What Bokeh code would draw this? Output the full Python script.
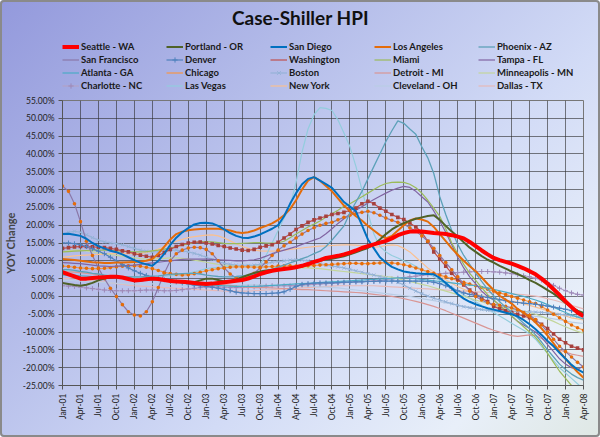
import numpy as np
from bokeh.plotting import figure
from bokeh.layouts import column
from bokeh.models import (Legend, LegendItem, Label, FixedTicker,
                          PrintfTickFormatter, Range1d)
from bokeh.embed import file_html
from bokeh.resources import INLINE

# ---------------- data (YOY change, %, monthly Jan-01 .. Apr-08) ----------------
tick_labels = ["Jan-01", "Apr-01", "Jul-01", "Oct-01", "Jan-02", "Apr-02", "Jul-02", "Oct-02",
               "Jan-03", "Apr-03", "Jul-03", "Oct-03", "Jan-04", "Apr-04", "Jul-04", "Oct-04",
               "Jan-05", "Apr-05", "Jul-05", "Oct-05", "Jan-06", "Apr-06", "Jul-06", "Oct-06",
               "Jan-07", "Apr-07", "Jul-07", "Oct-07", "Jan-08", "Apr-08"]

seattle = [6.8, 6.2, 5.6, 5.0, 5.0, 5.2, 5.3, 5.4, 5.5, 5.5, 5.3, 4.9,
           4.5, 4.6, 4.8, 5.0, 4.9, 4.6, 4.3, 4.2, 4.1, 4.0, 3.8, 3.6,
           3.5, 3.6, 3.8, 4.0, 4.2, 4.4, 4.6, 5.0, 5.6, 6.3, 6.8, 7.2,
           7.5, 7.7, 7.9, 8.2, 8.6, 9.1, 9.7, 10.2, 10.8, 11.1, 11.4, 11.8,
           12.3, 12.9, 13.6, 14.1, 14.6, 15.1, 15.6, 16.3, 17.2, 17.8, 18.2, 18.3,
           18.2, 18.0, 17.8, 17.7, 17.5, 17.2, 16.8, 16.3, 15.3, 14.1, 12.9, 11.8,
           10.8, 10.2, 9.7, 9.2, 8.6, 7.9, 7.1, 6.2, 5.0, 3.6, 2.0, 0.4,
           -1.4, -3.0, -4.5, -5.5]
portland = [3.8, 3.5, 3.2, 3.0, 3.3, 3.8, 4.5, 5.0, 5.3, 5.5, 5.3, 5.0,
            4.6, 4.5, 4.7, 5.0, 5.0, 4.8, 4.5, 4.3, 4.0, 3.8, 4.0, 4.5,
            5.0, 5.0, 4.6, 4.2, 4.3, 4.8, 5.4, 6.0, 6.6, 7.0, 7.3, 7.5,
            7.6, 7.8, 8.0, 8.3, 8.7, 9.2, 9.6, 10.0, 10.4, 10.6, 10.9, 11.3,
            11.8, 12.4, 13.0, 13.6, 14.6, 16.0, 17.5, 18.8, 19.8, 20.6, 21.2, 21.8,
            22.2, 22.6, 22.8, 21.5, 19.8, 18.2, 16.8, 15.2, 13.7, 12.5, 11.3, 10.3,
            9.5, 8.6, 7.8, 7.0, 6.3, 5.5, 4.6, 3.8, 2.8, 1.8, 0.8, -0.5,
            -1.8, -3.0, -4.0, -4.6]
san_diego = [17.5, 17.6, 17.3, 17.0, 16.2, 15.0, 14.1, 13.5, 12.8, 12.4, 11.8, 11.0,
             10.2, 9.5, 9.0, 8.6, 10.0, 12.0, 14.5, 16.5, 18.0, 19.2, 20.2, 20.6,
             20.7, 20.5, 19.8, 18.8, 17.8, 17.0, 16.5, 16.4, 16.8, 17.4, 18.2, 19.0,
             20.0, 22.5, 26.0, 29.0, 31.5, 33.0, 33.5, 32.5, 31.5, 30.5, 28.5, 26.5,
             25.2, 23.9, 20.0, 16.0, 13.5, 11.0, 9.5, 8.3, 7.6, 7.0, 6.7, 6.5,
             6.4, 6.3, 6.2, 5.2, 3.8, 2.3, 0.6, -0.6, -1.5, -2.2, -2.8, -3.3,
             -3.7, -4.1, -4.6, -5.0, -5.6, -6.6, -7.8, -9.2, -10.8, -12.5, -14.0, -15.8,
             -17.5, -19.2, -20.5, -21.4]
los_angeles = [10.5, 10.4, 10.2, 10.0, 9.8, 9.6, 9.5, 9.4, 9.4, 9.5, 9.5, 9.6,
               9.7, 9.8, 10.0, 10.5, 12.0, 14.0, 16.0, 17.5, 18.2, 18.6, 18.8, 18.9,
               19.0, 19.0, 19.0, 18.8, 18.5, 18.0, 17.8, 18.0, 18.5, 19.2, 19.8, 20.5,
               21.5, 22.8, 24.5, 27.0, 30.0, 32.5, 33.5, 32.5, 31.0, 29.5, 27.5, 25.5,
               24.0, 22.5, 21.3, 19.8, 18.5, 17.2, 16.3, 17.0, 18.5, 20.0, 21.3, 21.9,
               21.6, 21.0, 19.5, 17.5, 15.5, 13.5, 11.7, 10.0, 8.5, 7.1, 5.3, 3.5,
               1.8, 0.2, -0.9, -2.0, -3.5, -4.6, -5.8, -7.3, -9.0, -11.0, -13.2, -15.5,
               -17.5, -19.4, -21.2, -22.8]
phoenix = [7.5, 7.5, 7.3, 7.0, 6.8, 6.5, 6.3, 6.0, 5.8, 5.7, 5.5, 5.5,
           5.5, 5.5, 5.6, 5.7, 5.8, 6.0, 6.2, 6.3, 6.4, 6.5, 6.5, 6.3,
           6.0, 5.8, 5.6, 5.5, 5.5, 5.6, 5.8, 6.0, 6.3, 6.7, 7.1, 7.6,
           8.2, 8.8, 9.4, 10.0, 10.6, 11.2, 12.0, 12.7, 14.0, 15.8, 17.8, 19.8,
           23.5, 26.5, 29.5, 33.0, 36.5, 40.0, 43.5, 46.5, 49.3, 48.6, 47.0, 45.5,
           42.0, 38.9, 34.5, 28.0, 23.0, 18.5, 14.6, 11.5, 9.0, 6.5, 4.2, 2.0,
           0.2, -1.5, -3.0, -4.5, -6.0, -7.5, -9.0, -10.8, -12.8, -15.0, -17.0, -19.0,
           -20.5, -21.8, -22.8, -23.5]
san_francisco = [31.0, 29.5, 26.0, 21.0, 15.5, 11.5, 8.0, 5.0, 2.3, 0.0, -2.3, -4.3,
                 -5.2, -5.5, -4.3, -1.5, 2.5, 6.5, 10.0, 12.0, 13.0, 13.6, 13.8, 13.7,
                 13.2, 12.0, 10.0, 8.0, 6.3, 5.2, 5.0, 5.5, 6.5, 8.0, 9.7, 11.5,
                 13.0, 14.2, 15.2, 16.4, 17.5, 18.5, 19.3, 20.0, 20.5, 20.8, 21.5, 22.2,
                 22.8, 23.3, 23.6, 23.9, 23.5, 22.8, 22.0, 21.4, 20.8, 20.3, 19.3, 18.3,
                 17.0, 15.5, 13.5, 11.5, 9.5, 7.5, 5.5, 3.5, 1.5, 0.0, -1.0, -1.8,
                 -2.2, -2.5, -2.8, -3.2, -3.8, -4.5, -5.3, -6.5, -8.0, -10.0, -12.0, -14.0,
                 -15.5, -17.0, -18.5, -19.8]
denver = [15.0, 15.0, 14.8, 14.5, 14.0, 13.4, 12.7, 12.0, 11.0, 10.0, 9.0, 8.0,
          7.2, 6.5, 5.9, 5.4, 5.0, 4.7, 4.4, 4.1, 3.8, 3.5, 3.2, 3.0,
          2.8, 2.6, 2.3, 2.0, 1.6, 1.2, 1.0, 0.9, 0.8, 0.8, 0.8, 0.9,
          1.0, 1.3, 2.0, 2.8, 3.4, 3.6, 3.7, 3.8, 3.8, 3.8, 3.9, 4.0,
          4.0, 4.1, 4.1, 4.2, 4.2, 4.3, 4.3, 4.3, 4.3, 4.3, 4.3, 4.3,
          4.3, 4.2, 4.0, 3.6, 3.0, 2.3, 1.6, 1.0, 0.6, 0.3, 0.0, -0.3,
          -0.6, -0.9, -1.2, -1.5, -1.7, -1.9, -2.0, -2.2, -2.4, -2.7, -3.0, -3.3,
          -3.6, -4.0, -4.4, -4.8]
washington = [13.5, 13.7, 13.9, 14.0, 14.0, 13.9, 13.8, 13.7, 13.5, 13.2, 12.8, 12.5,
              12.0, 11.6, 11.3, 11.0, 11.5, 12.3, 13.2, 14.0, 14.6, 15.0, 15.2, 15.3,
              15.0, 14.7, 14.3, 14.0, 13.6, 13.3, 13.0, 12.9, 13.2, 13.8, 14.2, 14.5,
              15.2, 16.4, 17.5, 18.8, 19.8, 20.8, 21.5, 22.0, 22.5, 23.0, 23.3, 23.6,
              24.2, 24.8, 26.0, 26.7, 26.0, 24.8, 23.9, 23.0, 22.2, 21.6, 20.6, 19.5,
              18.0, 15.5, 12.5, 10.5, 8.5, 6.5, 4.8, 3.2, 1.8, 0.6, -0.5, -1.4,
              -2.8, -3.5, -4.0, -4.5, -5.0, -5.5, -6.0, -6.8, -7.8, -9.0, -10.5, -12.0,
              -13.0, -14.0, -14.5, -15.0]
miami = [12.5, 12.6, 12.7, 12.8, 12.9, 13.0, 13.0, 13.0, 12.9, 12.8, 12.7, 12.6,
         12.5, 12.5, 12.6, 12.8, 13.0, 13.3, 13.6, 14.0, 14.4, 14.8, 15.1, 15.3,
         15.4, 15.3, 15.1, 14.9, 14.8, 14.8, 14.9, 15.0, 15.1, 15.1, 15.0, 15.0,
         15.0, 15.5, 16.5, 17.5, 18.5, 19.5, 20.3, 21.2, 22.2, 23.2, 24.2, 25.3,
         26.0, 27.0, 28.0, 29.0, 30.0, 31.0, 31.7, 32.0, 32.1, 32.0, 31.5, 30.5,
         29.0, 27.0, 24.8, 22.5, 19.0, 15.0, 12.0, 9.0, 6.5, 4.5, 2.5, 0.5,
         -1.0, -2.5, -4.0, -5.5, -7.0, -8.5, -10.0, -11.5, -13.5, -16.0, -18.5, -21.0,
         -23.0, -25.0, -27.0, -28.5]
tampa = [9.5, 9.4, 9.3, 9.2, 9.0, 8.8, 8.6, 8.5, 8.4, 8.5, 8.6, 8.7,
         8.8, 9.0, 9.2, 9.4, 9.6, 9.8, 10.0, 10.2, 10.4, 10.5, 10.5, 10.5,
         10.5, 10.4, 10.3, 10.2, 10.1, 10.0, 10.0, 10.1, 10.3, 10.7, 11.3, 12.0,
         12.5, 13.0, 13.5, 14.0, 14.6, 15.2, 15.8, 16.4, 17.6, 19.0, 20.5, 21.8,
         23.0, 24.2, 25.2, 26.2, 27.2, 28.1, 29.0, 29.8, 30.4, 30.9, 30.6, 29.5,
         28.0, 26.5, 24.0, 21.1, 18.0, 14.5, 11.0, 8.0, 5.5, 3.5, 1.5, 0.0,
         -1.0, -2.5, -4.0, -5.5, -7.0, -8.0, -9.0, -10.0, -11.5, -13.5, -15.5, -17.5,
         -19.0, -20.0, -20.5, -19.5]
atlanta = [6.0, 6.0, 5.9, 5.8, 5.7, 5.6, 5.5, 5.4, 5.3, 5.2, 5.1, 5.0,
           4.9, 4.8, 4.7, 4.6, 4.5, 4.4, 4.3, 4.2, 4.0, 3.8, 3.6, 3.4,
           3.3, 3.2, 3.1, 3.0, 2.9, 2.8, 2.8, 2.8, 2.8, 2.9, 3.0, 3.1,
           3.2, 3.3, 3.4, 3.5, 3.6, 3.7, 3.8, 3.9, 4.0, 4.1, 4.2, 4.3,
           4.4, 4.5, 4.6, 4.7, 4.8, 4.9, 5.0, 5.1, 5.2, 5.2, 5.1, 5.0,
           4.8, 4.6, 4.4, 4.2, 4.0, 3.8, 3.6, 3.4, 3.2, 3.0, 2.7, 2.4,
           2.0, 1.6, 1.2, 0.8, 0.4, 0.0, -0.5, -1.0, -1.6, -2.3, -3.0, -3.8,
           -4.5, -5.2, -5.8, -6.3]
chicago = [8.5, 8.4, 8.2, 8.0, 7.9, 7.8, 7.8, 7.9, 8.1, 8.3, 8.5, 8.6,
           8.6, 8.5, 8.2, 7.8, 7.3, 6.8, 6.4, 6.2, 6.0, 6.1, 6.4, 6.8,
           7.2, 7.5, 7.8, 8.0, 8.2, 8.3, 8.3, 8.3, 8.2, 8.2, 8.3, 8.4,
           8.5, 8.6, 8.6, 8.5, 8.5, 8.6, 8.7, 8.8, 8.9, 9.0, 9.1, 9.2,
           9.3, 9.3, 9.2, 9.2, 9.3, 9.4, 9.5, 9.4, 9.2, 8.9, 8.5, 8.0,
           7.5, 7.0, 6.5, 6.0, 5.5, 5.0, 4.5, 4.0, 3.5, 3.0, 2.5, 2.0,
           1.5, 1.0, 0.5, 0.0, -0.5, -1.0, -1.5, -2.0, -2.8, -3.8, -5.0, -6.0,
           -7.0, -8.0, -8.8, -9.5]
boston = [17.5, 18.0, 18.3, 18.0, 17.3, 16.5, 15.8, 15.3, 15.0, 14.8, 14.5, 14.0,
          13.5, 13.0, 12.7, 12.5, 12.6, 12.8, 13.0, 13.0, 12.8, 12.5, 12.1, 11.6,
          11.0, 10.4, 9.8, 9.3, 9.0, 8.8, 8.7, 8.7, 8.8, 9.0, 9.3, 9.6,
          9.8, 10.0, 10.2, 10.3, 10.2, 10.0, 9.6, 9.2, 8.8, 8.5, 8.3, 8.0,
          7.6, 7.2, 6.8, 6.4, 6.0, 5.6, 5.2, 4.7, 4.0, 3.2, 2.3, 1.5,
          0.8, 0.1, -0.5, -1.0, -1.5, -2.0, -2.5, -2.9, -3.2, -3.5, -3.7, -3.9,
          -4.0, -4.1, -4.2, -4.2, -4.2, -4.3, -4.3, -4.4, -4.5, -4.6, -4.8, -5.0,
          -5.2, -5.4, -5.6, -5.8]
detroit = [7.0, 6.9, 6.8, 6.7, 6.5, 6.3, 6.1, 5.9, 5.7, 5.5, 5.3, 5.1,
           5.0, 4.9, 4.8, 4.7, 4.6, 4.5, 4.4, 4.3, 4.2, 4.1, 4.0, 3.9,
           3.8, 3.7, 3.5, 3.3, 3.1, 2.9, 2.7, 2.6, 2.5, 2.5, 2.5, 2.4,
           2.3, 2.2, 2.1, 2.0, 1.9, 1.9, 1.8, 1.7, 1.6, 1.5, 1.4, 1.3,
           1.2, 1.1, 1.0, 0.8, 0.6, 0.4, 0.2, 0.0, -0.3, -0.6, -1.0, -1.4,
           -1.8, -2.3, -2.8, -3.4, -4.0, -4.7, -5.4, -6.1, -6.8, -7.5, -8.2, -8.9,
           -9.5, -10.0, -10.5, -11.0, -11.2, -11.0, -10.8, -11.0, -11.8, -12.8, -14.0, -15.0,
           -15.6, -16.2, -16.5, -16.8]
minneapolis = [12.5, 12.8, 13.0, 13.0, 12.8, 12.5, 12.2, 12.0, 11.8, 11.5, 11.3, 11.0,
               10.8, 10.6, 10.5, 10.5, 10.6, 10.7, 10.8, 10.8, 10.7, 10.5, 10.2, 9.9,
               9.6, 9.3, 9.0, 8.8, 8.7, 8.6, 8.5, 8.5, 8.5, 8.5, 8.4, 8.3,
               8.2, 8.1, 8.0, 8.0, 8.0, 8.0, 7.9, 7.8, 7.6, 7.4, 7.2, 7.0,
               6.8, 6.6, 6.4, 6.2, 6.0, 5.8, 5.6, 5.4, 5.0, 4.6, 4.2, 3.8,
               3.4, 3.0, 2.5, 2.0, 1.5, 1.0, 0.5, 0.0, -0.5, -1.0, -1.5, -2.0,
               -2.5, -3.0, -3.3, -3.6, -3.9, -4.2, -4.5, -5.0, -5.6, -6.3, -7.0, -7.8,
               -8.5, -9.2, -9.8, -10.3]
charlotte = [3.0, 2.9, 2.8, 2.6, 2.4, 2.2, 2.0, 1.8, 1.7, 1.6, 1.6, 1.6,
             1.6, 1.7, 1.8, 1.8, 1.7, 1.6, 1.6, 1.7, 1.9, 2.1, 2.3, 2.5,
             2.6, 2.7, 2.7, 2.6, 2.5, 2.5, 2.5, 2.6, 2.7, 2.8, 2.9, 3.0,
             3.0, 3.0, 3.0, 3.1, 3.2, 3.3, 3.4, 3.5, 3.6, 3.7, 3.8, 3.9,
             4.0, 4.1, 4.2, 4.3, 4.4, 4.5, 4.7, 4.9, 5.1, 5.3, 5.5, 5.7,
             5.9, 6.1, 6.3, 6.4, 6.5, 6.6, 6.7, 6.8, 6.9, 7.0, 7.0, 7.0,
             6.9, 6.8, 6.6, 6.4, 6.1, 5.8, 5.5, 5.1, 4.6, 3.9, 3.1, 2.3,
             1.6, 1.0, 0.6, 0.4]
las_vegas = [7.5, 7.3, 7.0, 6.8, 6.6, 6.4, 6.2, 6.0, 5.8, 5.6, 5.5, 5.5,
             5.4, 5.3, 5.3, 5.4, 5.5, 5.6, 5.8, 6.0, 6.2, 6.5, 6.9, 7.3,
             7.8, 8.0, 8.2, 8.3, 8.4, 8.5, 8.6, 8.7, 8.8, 9.0, 11.5, 15.0,
             18.5, 22.0, 25.3, 32.0, 40.5, 47.0, 51.0, 53.0, 52.8, 52.2, 49.5, 45.9,
             42.0, 36.5, 30.0, 23.5, 17.5, 14.0, 12.5, 11.5, 10.8, 10.0, 9.4, 8.5,
             7.5, 6.5, 5.5, 4.5, 3.5, 2.5, 1.5, 0.5, -0.5, -1.5, -2.5, -3.5,
             -4.5, -5.5, -6.5, -7.5, -8.5, -9.5, -10.5, -12.0, -14.0, -16.0, -18.0, -20.0,
             -21.5, -23.0, -24.5, -26.0]
new_york = [11.0, 11.2, 11.4, 11.5, 11.6, 11.7, 11.8, 11.9, 12.0, 12.0, 12.0, 12.0,
            12.0, 12.1, 12.3, 12.7, 13.3, 14.0, 14.8, 15.5, 16.0, 16.5, 16.8, 17.0,
            17.2, 17.3, 17.0, 16.4, 15.6, 14.8, 14.0, 13.5, 13.0, 12.8, 12.7, 12.7,
            12.8, 13.0, 13.2, 13.4, 13.6, 13.8, 14.0, 14.1, 14.2, 14.3, 14.4, 14.5,
            14.5, 14.4, 14.2, 14.0, 13.8, 14.0, 14.3, 14.5, 14.3, 13.5, 12.5, 11.0,
            9.5, 8.0, 6.8, 5.7, 4.7, 3.7, 2.8, 2.0, 1.3, 0.7, 0.2, -0.2,
            -0.5, -0.8, -1.0, -1.3, -1.6, -2.0, -2.5, -3.0, -3.5, -4.0, -4.5, -5.0,
            -5.5, -6.0, -6.3, -6.6]
cleveland = [4.5, 4.5, 4.4, 4.3, 4.2, 4.1, 4.0, 3.9, 3.8, 3.7, 3.6, 3.5,
             3.5, 3.5, 3.5, 3.5, 3.5, 3.5, 3.4, 3.3, 3.2, 3.1, 3.0, 3.0,
             3.0, 3.0, 3.0, 3.0, 3.0, 3.1, 3.2, 3.3, 3.3, 3.3, 3.2, 3.1,
             3.0, 2.9, 2.8, 2.8, 2.8, 2.8, 2.8, 2.7, 2.6, 2.5, 2.4, 2.2,
             2.0, 1.8, 1.6, 1.4, 1.2, 1.0, 0.8, 0.6, 0.4, 0.2, 0.0, -0.3,
             -0.6, -0.9, -1.2, -1.5, -1.8, -2.1, -2.4, -2.7, -3.0, -3.3, -3.6, -3.9,
             -4.2, -4.4, -4.6, -4.8, -5.0, -5.2, -5.4, -5.6, -5.8, -6.0, -6.3, -6.6,
             -6.9, -7.2, -7.4, -7.6]
dallas = [5.0, 5.0, 4.9, 4.8, 4.6, 4.4, 4.2, 4.0, 3.8, 3.6, 3.4, 3.2,
          3.0, 2.9, 2.8, 2.7, 2.6, 2.5, 2.4, 2.3, 2.2, 2.1, 2.0, 1.9,
          1.8, 1.7, 1.6, 1.5, 1.5, 1.5, 1.5, 1.5, 1.6, 1.7, 1.8, 1.9,
          2.0, 2.1, 2.2, 2.3, 2.4, 2.5, 2.6, 2.7, 2.8, 2.9, 3.0, 3.0,
          3.0, 3.0, 3.0, 3.0, 3.0, 2.9, 2.8, 2.7, 2.6, 2.5, 2.4, 2.3,
          2.2, 2.1, 2.0, 1.9, 1.8, 1.7, 1.6, 1.5, 1.4, 1.3, 1.2, 1.1,
          1.0, 0.9, 0.8, 0.7, 0.6, 0.5, 0.3, 0.1, -0.2, -0.6, -1.0, -1.5,
          -2.0, -2.5, -3.0, -3.5]

# name, values, line colour, line width, marker, marker colour
series = [
    ("Seattle - WA", seattle, "#FF0000", 4.0, None, None),
    ("Portland - OR", portland, "#4F6228", 2.0, None, None),
    ("San Diego", san_diego, "#0070C0", 2.0, None, None),
    ("Los Angeles", los_angeles, "#E46C0A", 2.0, None, None),
    ("Phoenix - AZ", phoenix, "#5DA1B9", 1.3, None, None),
    ("San Francisco", san_francisco, "#8A78A8", 1.2, "circle", "#E46C0A"),
    ("Denver", denver, "#4F81BD", 1.2, "cross", "#4F81BD"),
    ("Washington", washington, "#C0504D", 1.2, "square", "#A5403D"),
    ("Miami", miami, "#9BBB59", 1.2, None, None),
    ("Tampa - FL", tampa, "#8064A2", 1.2, None, None),
    ("Atlanta - GA", atlanta, "#4BACC6", 1.2, None, None),
    ("Chicago", chicago, "#F79646", 1.2, "circle", "#E46C0A"),
    ("Boston", boston, "#95B3D7", 1.2, "x", "#95B3D7"),
    ("Detroit - MI", detroit, "#D99694", 1.2, None, None),
    ("Minneapolis - MN", minneapolis, "#C3D69B", 1.2, None, None),
    ("Charlotte - NC", charlotte, "#B3A2C7", 1.2, "cross", "#9C89B8"),
    ("Las Vegas", las_vegas, "#93CDDD", 1.2, None, None),
    ("New York", new_york, "#FAC090", 1.2, None, None),
    ("Cleveland - OH", cleveland, "#B9CDE5", 1.2, None, None),
    ("Dallas - TX", dallas, "#E6B9B8", 1.2, None, None),
]
MARKER_SIZE = {"circle": 3.6, "cross": 5, "square": 3.6, "x": 4.5}
FILLED = {"circle", "square"}

FONT = "Lato"
W, H_HEAD, H_MAIN = 600, 94, 343
B_LEFT, B_RIGHT = 62, 17
months = np.arange(len(seattle))


def add_markers(fig, vals, mk, mcol, size):
    if mk in FILLED:
        return fig.scatter(months, vals, marker=mk, size=size, fill_color=mcol,
                           line_color=None)
    return fig.scatter(months, vals, marker=mk, size=size, line_color=mcol, line_width=1)


# ---------------- header: title + legend (its own ranges keep the lines out of view) ----------------
head = figure(width=W, height=H_HEAD, output_backend="svg", toolbar_location=None,
              x_range=Range1d(200, 201), y_range=Range1d(200, 201),
              x_axis_type=None, y_axis_type=None, title_location=None,
              min_border_left=B_LEFT, min_border_right=B_RIGHT,
              min_border_top=0, min_border_bottom=0,
              background_fill_color=None, border_fill_color=None,
              outline_line_color=None)

items = []
for name, vals, col, lw, mk, mcol in series:
    rs = [head.line(months, vals, line_color=col, line_width=lw)]
    if mk is not None and mk not in FILLED:
        rs.append(add_markers(head, vals, mk, mcol, MARKER_SIZE[mk]))
    items.append(LegendItem(label=name, renderers=rs))

legend = Legend(items=items, location=(0, 2), orientation="horizontal", ncols=5,
                padding=0, margin=0, spacing=0, glyph_width=17, glyph_height=13,
                label_height=13, label_width=85, label_standoff=2,
                label_text_font=FONT, label_text_font_size="9.5px",
                label_text_font_style="bold", label_text_color="#1a1a1a",
                background_fill_alpha=0, border_line_color=None)
head.add_layout(legend, "center")
head.add_layout(Label(x=300 - B_LEFT, y=H_HEAD - 17, x_units="screen", y_units="screen",
                      text="Case-Shiller HPI", text_align="center", text_baseline="middle",
                      text_font=FONT, text_font_size="19px", text_font_style="bold",
                      text_color="#111111"))

# ---------------- main chart ----------------
p = figure(width=W, height=H_MAIN, output_backend="svg", toolbar_location=None,
           x_range=Range1d(0, 87), y_range=Range1d(-25, 55), title_location=None,
           min_border_left=B_LEFT, min_border_right=B_RIGHT, min_border_top=6,
           min_border_bottom=52,
           background_fill_color=None, border_fill_color=None)
p.outline_line_color = "#777777"

p.xaxis.ticker = FixedTicker(ticks=list(range(0, 3 * len(tick_labels), 3)))
p.xaxis.major_label_overrides = {3 * i: lab for i, lab in enumerate(tick_labels)}
p.xaxis.major_label_orientation = np.pi / 2
p.yaxis.ticker = FixedTicker(ticks=list(range(-25, 56, 5)))
p.yaxis.formatter = PrintfTickFormatter(format="%.2f%%")
p.yaxis.axis_label = "YOY Change"
p.yaxis.axis_label_text_font_style = "bold"
p.yaxis.axis_label_text_font_size = "11px"
p.yaxis.axis_label_text_font = FONT
p.yaxis.axis_label_standoff = 3
for ax in (p.xaxis[0], p.yaxis[0]):
    ax.major_label_text_font = FONT
    ax.major_label_text_font_size = "8.5px"
    ax.major_label_text_color = "#222222"
    ax.major_tick_out = 4
    ax.major_tick_in = 0
    ax.minor_tick_out = 0
    ax.minor_tick_in = 0
    ax.major_label_standoff = 4
    ax.axis_line_color = "#555555"
    ax.major_tick_line_color = "#555555"
p.xgrid.grid_line_color = "#2f2f2f"
p.xgrid.grid_line_alpha = 0.62
p.ygrid.grid_line_color = "#2f2f2f"
p.ygrid.grid_line_alpha = 0.62

draw_order = list(range(len(series) - 1, 3, -1)) + [3, 2, 1, 0]
for idx in draw_order:
    name, vals, col, lw, mk, mcol = series[idx]
    p.line(months, vals, line_color=col, line_width=lw)
    if mk is not None:
        add_markers(p, vals, mk, mcol, MARKER_SIZE[mk])

page = column(head, p, spacing=0)
page.styles = {"background": "linear-gradient(135deg, #9399dc 0%, #b1b9e8 30%, #d2dbf6 62%, #e8eff9 85%, #dfe8e4 100%)",
               "box-shadow": "inset 0 0 0 2px #8a8a8a", "border-radius": "4px"}

open("out.html", "w").write(file_html(page, INLINE))
